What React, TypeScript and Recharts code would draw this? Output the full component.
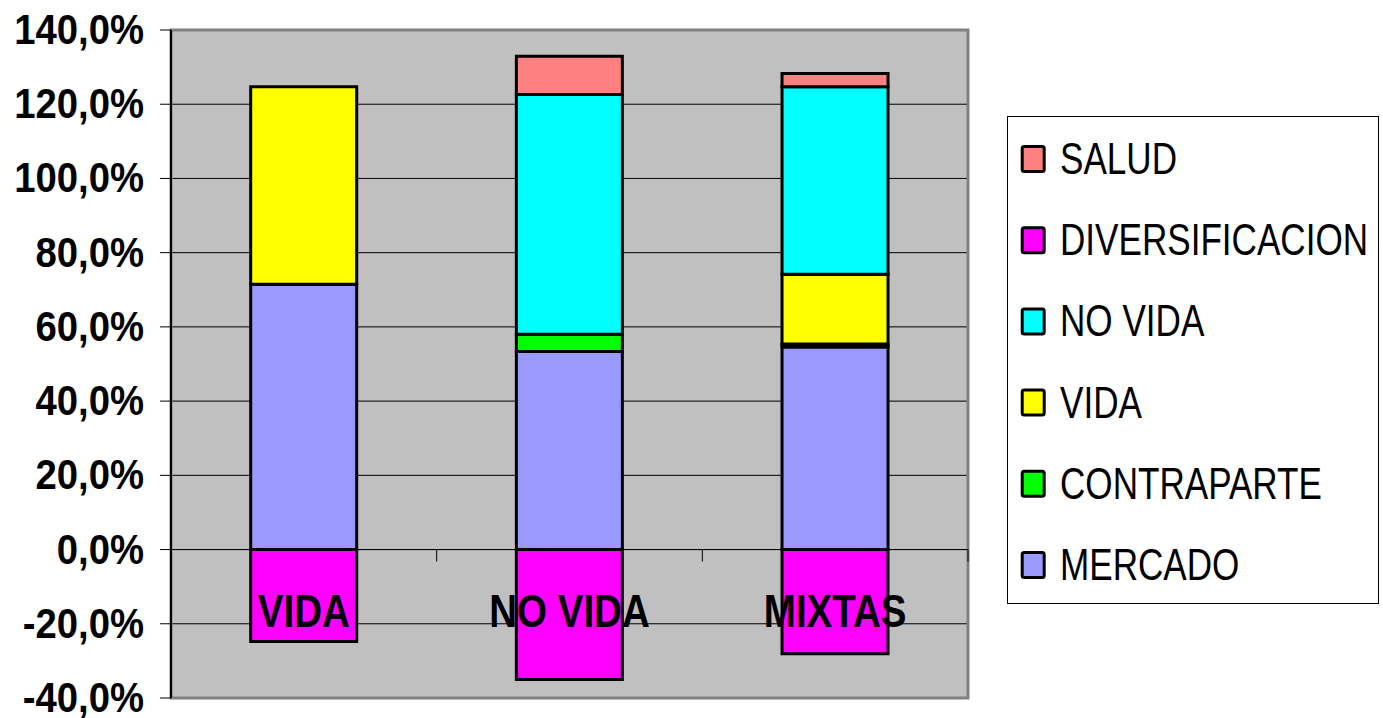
import React from 'react';
import {
  BarChart,
  Bar,
  XAxis,
  YAxis,
  CartesianGrid,
  ReferenceLine,
  ReferenceArea,
  Legend,
} from 'recharts';

const categories = ['VIDA', 'NO VIDA', 'MIXTAS'];
const mercado = [71.5, 53.4, 54.6];
const contraparte = [0, 4.6, 0.8];
const vida = [53.2, 0, 18.8];
const noVida = [0, 64.6, 50.5];
const diversificacion = [-24.8, -35.0, -28.1];
const salud = [0, 10.3, 3.6];
const yTicks = [-40, -20, 0, 20, 40, 60, 80, 100, 120, 140];

const seriesNames = ['MERCADO', 'CONTRAPARTE', 'VIDA', 'NO VIDA', 'DIVERSIFICACION', 'SALUD'];
const legendOrder = ['SALUD', 'DIVERSIFICACION', 'NO VIDA', 'VIDA', 'CONTRAPARTE', 'MERCADO'];
const colors: Record<string, string> = {
  MERCADO: '#9999FF',
  CONTRAPARTE: '#00FF00',
  VIDA: '#FFFF00',
  'NO VIDA': '#00FFFF',
  DIVERSIFICACION: '#FF00FF',
  SALUD: '#FF8080',
};

const data = categories.map((name, i) => ({
  name,
  MERCADO: mercado[i],
  CONTRAPARTE: contraparte[i],
  VIDA: vida[i],
  'NO VIDA': noVida[i],
  DIVERSIFICACION: diversificacion[i],
  SALUD: salud[i],
}));

const FONT = "'Liberation Sans', Arial, sans-serif";

const fmt = (v: number) => `${v.toFixed(1).replace('.', ',')}%`;

const YTick = (props: any) => {
  const { x, y, payload } = props;
  return (
    <text
      x={0}
      y={0}
      transform={`translate(${x},${y + 14}) scale(0.89,1)`}
      textAnchor="end"
      fontFamily={FONT}
      fontWeight="bold"
      fontSize={43}
      fill="#000"
    >
      {fmt(payload.value)}
    </text>
  );
};

const XTick = (props: any) => {
  const { x, y, payload } = props;
  return (
    <text
      x={0}
      y={0}
      transform={`translate(${x},${y - 71}) scale(0.82,1)`}
      textAnchor="middle"
      fontFamily={FONT}
      fontWeight="bold"
      fontSize={47}
      fill="#000"
    >
      {payload.value}
    </text>
  );
};

const ZeroLine = (props: any) => {
  const { x1, x2, y1 } = props;
  const n = categories.length;
  const step = (x2 - x1) / n;
  return (
    <g>
      <line x1={x1} x2={x2} y1={y1} y2={y1} stroke="#000" strokeWidth={1} />
      {Array.from({ length: n + 1 }, (_, i) => (
        <line
          key={i}
          x1={x1 + i * step}
          x2={x1 + i * step}
          y1={y1}
          y2={y1 + 12}
          stroke="#000"
          strokeWidth={1}
        />
      ))}
    </g>
  );
};

const LegendContent = () => (
  <svg width={373} height={489} style={{ display: 'block' }}>
    <rect x={0.5} y={0.5} width={371} height={487} fill="#fff" stroke="#000" strokeWidth={1} />
    {legendOrder.map((name, i) => {
      const cy = 43 + i * 81.2;
      return (
        <g key={name}>
          <rect
            x={15.2}
            y={cy - 12.5}
            width={22}
            height={25}
            rx={2}
            fill={colors[name]}
            stroke="#000"
            strokeWidth={3}
          />
          <text
            x={0}
            y={0}
            transform={`translate(53,${cy + 15}) scale(0.78,1)`}
            fontFamily={FONT}
            fontSize={45}
            fill="#000"
          >
            {name}
          </text>
        </g>
      );
    })}
  </svg>
);

export default function App() {
  return (
    <div style={{ position: 'absolute', left: 0, top: 0, width: 1383, height: 718, background: '#fff' }}>
      <BarChart
        width={1383}
        height={718}
        data={data}
        stackOffset="sign"
        barCategoryGap="30%"
        margin={{ top: 30, right: 415, bottom: 0, left: 0 }}
      >
        <CartesianGrid vertical={false} stroke="#000" fill="#C0C0C0" fillOpacity={1} />
        <ReferenceArea y1={-40} y2={140} fill="none" stroke="#808080" strokeWidth={3} ifOverflow="visible" />
        <ReferenceLine y={0} shape={<ZeroLine />} ifOverflow="visible" />
        {seriesNames.map((s) => (
          <Bar
            key={s}
            dataKey={s}
            stackId="a"
            fill={colors[s]}
            stroke="#000"
            strokeWidth={3}
            isAnimationActive={false}
          />
        ))}
        <XAxis
          dataKey="name"
          height={20}
          axisLine={false}
          tickLine={false}
          tickSize={0}
          tickMargin={0}
          interval={0}
          tick={<XTick />}
        />
        <YAxis
          width={171}
          domain={[-40, 140]}
          ticks={yTicks}
          interval={0}
          tickSize={11}
          tickMargin={16}
          axisLine={{ stroke: '#000', strokeWidth: 2 }}
          tickLine={{ stroke: '#000', strokeWidth: 1 }}
          tick={<YTick />}
        />
        <Legend
          layout="vertical"
          align="center"
          verticalAlign="middle"
          content={<LegendContent />}
          wrapperStyle={{ position: 'absolute', left: 1007, top: 116, width: 373, height: 489 }}
        />
      </BarChart>
    </div>
  );
}
